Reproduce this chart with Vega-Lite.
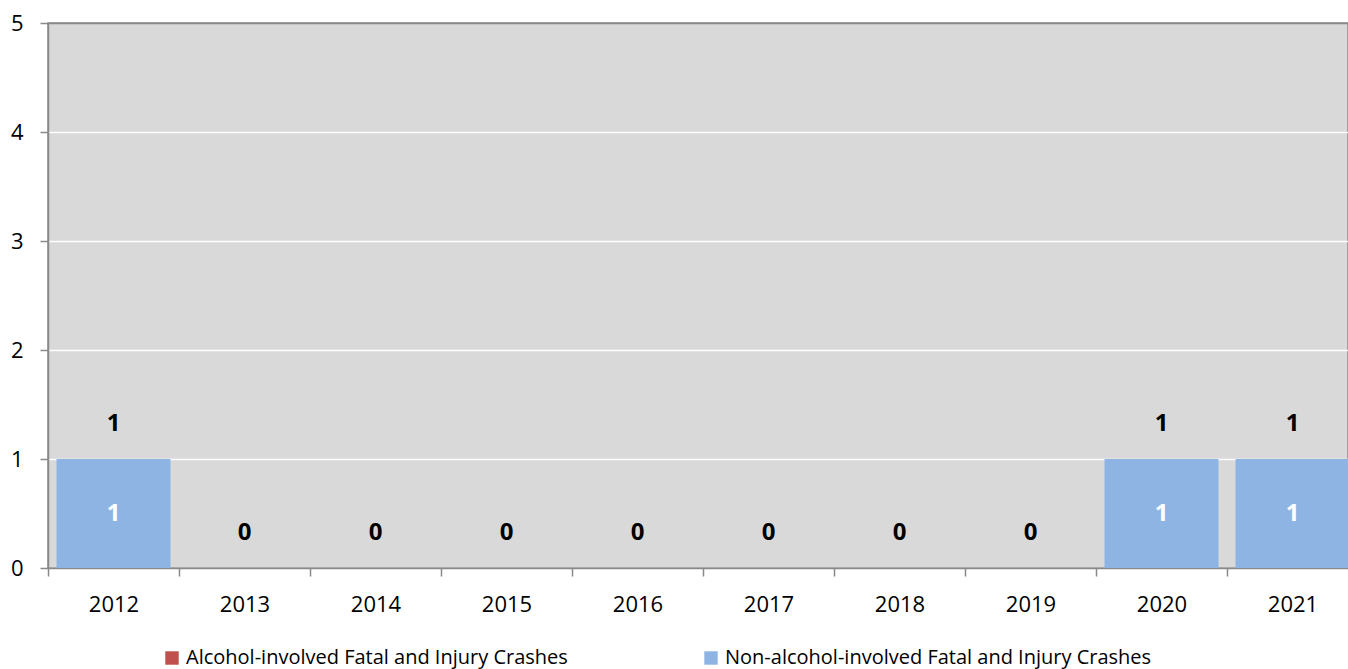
{
  "$schema": "https://vega.github.io/schema/vega-lite/v6.json",
  "width": 1300,
  "height": 545,
  "autosize": "none",
  "padding": {"left": 48, "top": 23, "right": 0, "bottom": 101},
  "background": "white",
  "config": {
    "view": {"fill": "#D9D9D9", "stroke": "#898989", "strokeWidth": 1.5},
    "font": "Open Sans"
  },
  "data": {
    "values": [
      {"year": "2012", "category": "Alcohol-involved Fatal and Injury Crashes", "value": 0},
      {"year": "2012", "category": "Non-alcohol-involved Fatal and Injury Crashes", "value": 1},
      {"year": "2013", "category": "Alcohol-involved Fatal and Injury Crashes", "value": 0},
      {"year": "2013", "category": "Non-alcohol-involved Fatal and Injury Crashes", "value": 0},
      {"year": "2014", "category": "Alcohol-involved Fatal and Injury Crashes", "value": 0},
      {"year": "2014", "category": "Non-alcohol-involved Fatal and Injury Crashes", "value": 0},
      {"year": "2015", "category": "Alcohol-involved Fatal and Injury Crashes", "value": 0},
      {"year": "2015", "category": "Non-alcohol-involved Fatal and Injury Crashes", "value": 0},
      {"year": "2016", "category": "Alcohol-involved Fatal and Injury Crashes", "value": 0},
      {"year": "2016", "category": "Non-alcohol-involved Fatal and Injury Crashes", "value": 0},
      {"year": "2017", "category": "Alcohol-involved Fatal and Injury Crashes", "value": 0},
      {"year": "2017", "category": "Non-alcohol-involved Fatal and Injury Crashes", "value": 0},
      {"year": "2018", "category": "Alcohol-involved Fatal and Injury Crashes", "value": 0},
      {"year": "2018", "category": "Non-alcohol-involved Fatal and Injury Crashes", "value": 0},
      {"year": "2019", "category": "Alcohol-involved Fatal and Injury Crashes", "value": 0},
      {"year": "2019", "category": "Non-alcohol-involved Fatal and Injury Crashes", "value": 0},
      {"year": "2020", "category": "Alcohol-involved Fatal and Injury Crashes", "value": 0},
      {"year": "2020", "category": "Non-alcohol-involved Fatal and Injury Crashes", "value": 1},
      {"year": "2021", "category": "Alcohol-involved Fatal and Injury Crashes", "value": 0},
      {"year": "2021", "category": "Non-alcohol-involved Fatal and Injury Crashes", "value": 1}
    ]
  },
  "encoding": {
    "x": {
      "field": "year",
      "type": "ordinal",
      "scale": {"paddingInner": 0.13, "paddingOuter": 0.065, "range": [0, 1310]},
      "axis": {
        "title": null,
        "labelAngle": 0,
        "tickOffset": -65.5,
        "labelOffset": 65.5,
        "domainColor": "#898989",
        "domainWidth": 1.5,
        "tickColor": "#898989",
        "tickWidth": 1.5,
        "tickSize": 8,
        "labelFontSize": 22,
        "labelColor": "black",
        "labelPadding": 18,
        "grid": false
      }
    }
  },
  "resolve": {"scale": {"y": "independent"}},
  "layer": [
    {
      "mark": {"type": "bar"},
      "encoding": {
        "y": {
          "field": "value",
          "type": "quantitative",
          "stack": "zero",
          "scale": {"domain": [0, 5], "nice": false},
          "axis": {
            "title": null,
            "values": [0, 1, 2, 3, 4, 5],
            "format": "d",
            "gridColor": {"condition": {"test": "datum.value === 5", "value": "#898989"}, "value": "white"},
            "gridWidth": 1.5,
            "domainColor": "#898989",
            "domainWidth": 1.5,
            "tickColor": "#898989",
            "tickWidth": 1.5,
            "tickSize": 8,
            "labelFontSize": 22,
            "labelColor": "black",
            "labelPadding": 17
          }
        },
        "color": {
          "field": "category",
          "type": "nominal",
          "scale": {
            "domain": ["Alcohol-involved Fatal and Injury Crashes", "Non-alcohol-involved Fatal and Injury Crashes"],
            "range": ["#C0504D", "#8EB4E3"]
          },
          "legend": {
            "title": null,
            "orient": "none",
            "legendX": 114,
            "legendY": 625,
            "direction": "horizontal",
            "symbolType": "square",
            "symbolSize": 180,
            "symbolStrokeWidth": 0,
            "labelFontSize": 20,
            "labelColor": "black",
            "labelLimit": 600,
            "columnPadding": 133
          }
        },
        "order": {"field": "category", "sort": "ascending"}
      }
    },
    {
      "transform": [{"filter": "datum.value > 0"}],
      "mark": {"type": "text", "fontWeight": "bold", "color": "white", "fontSize": 24, "baseline": "middle"},
      "encoding": {
        "y": {"field": "value", "type": "quantitative", "stack": null, "scale": {"domain": [0, 10], "nice": false}, "axis": null},
        "text": {"field": "value", "type": "quantitative"}
      }
    },
    {
      "transform": [{"aggregate": [{"op": "sum", "field": "value", "as": "total"}], "groupby": ["year"]}],
      "mark": {"type": "text", "fontWeight": "bold", "color": "black", "fontSize": 24, "baseline": "middle", "dy": -35},
      "encoding": {
        "y": {"field": "total", "type": "quantitative", "scale": {"domain": [0, 5], "nice": false}, "axis": null},
        "text": {"field": "total", "type": "quantitative"}
      }
    }
  ]
}
